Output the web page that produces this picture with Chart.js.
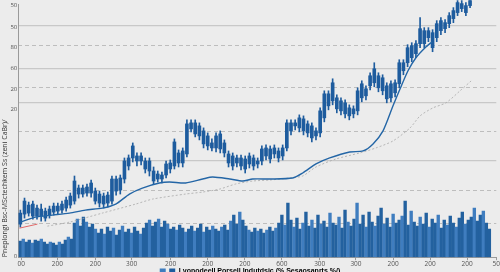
<!DOCTYPE html>
<html>
<head>
<meta charset="utf-8">
<script src="https://cdn.jsdelivr.net/npm/chart.js@4.4.1/dist/chart.umd.min.js"></script>
<style>
  html, body { margin: 0; padding: 0; background: #ececec; overflow: hidden; }
  #wrap { position: relative; width: 500px; height: 285px; }
</style>
</head>
<body>
<div id="wrap"><canvas id="chart"></canvas></div>
<script>
// axis ticks
const xTickVals   = [0.2, 8.9, 18, 26.7, 36.1, 45, 53.9, 62.8, 71.9, 80.6, 89.5, 98.4, 107.3, 114.3];
const xTickLabels = ['00', '200', '200', '300', '200', '200', '200', '600', '300', '300', '200', '200', '200', '50'];
const yTickVals   = [1, 148, 168, 188, 209, 229, 251];
const yTickLabels = ['0', '20', '20', '60', '80', '50', '50'];
const gridSolid   = [96, 154, 188, 231];
const gridDashed  = [34, 67, 125, 169, 211];

const yTitle = 'Pneplongi Bsc-MSctechkem Ss (zeni CaBr)/';
const legendText = 'Lyonodeell Porsell Indutdsic (% Sesaosanrts %/)';

// candles
const candleOpen  = [33,43,52,41,49,48,46,42,45,51,47,49,52,56,69,63,64,64,66,63,61,54,56,78,67,78,91,99,101,96,96,96,86,78,82,82,88,91,104,94,103,128,134,131,126,121,109,109,108,114,103,101,94,99,98,93,99,96,96,101,108,103,106,101,109,134,131,129,138,133,131,121,124,139,163,156,159,156,154,149,143,146,159,168,171,174,181,179,171,159,164,173,186,194,211,203,213,226,219,224,219,226,234,233,238,244,253,251,251];
const candleClose = [44,56,44,53,41,41,39,48,51,46,53,57,61,76,63,69,70,74,56,54,53,62,78,66,79,96,99,111,96,101,88,86,76,83,78,93,94,115,94,106,133,134,123,121,113,111,114,121,123,104,94,91,99,91,88,101,91,93,108,109,98,109,99,109,134,126,134,139,126,124,119,126,146,163,151,174,148,146,143,141,148,166,173,161,181,188,169,166,158,173,174,194,194,209,199,213,228,213,226,209,233,236,228,241,246,254,248,244,256];
const candleHigh  = [47,59,55,56,52,53,49,51,54,54,56,60,64,81,72,72,73,77,69,66,64,65,81,81,82,99,102,114,104,104,99,99,90,86,85,96,97,118,107,109,137,137,137,134,129,124,118,124,126,117,106,104,102,102,101,104,102,99,111,112,111,112,109,112,137,137,137,142,141,136,134,129,149,166,166,178,162,159,157,152,151,169,176,171,184,194,184,182,174,176,177,197,197,212,214,216,239,229,229,227,236,239,237,244,249,256,256,254,256];
const candleLow   = [30,39,41,38,38,36,36,39,42,43,44,46,49,53,59,60,61,60,53,50,49,50,53,62,63,74,87,95,91,92,84,81,73,75,74,79,84,88,90,90,100,125,120,117,109,107,106,105,104,100,90,87,90,87,84,89,87,89,92,97,94,99,95,97,106,122,127,125,122,120,115,117,120,135,147,152,144,142,139,137,139,142,155,157,167,170,165,162,154,155,160,169,182,190,195,199,209,209,215,205,215,222,224,229,234,241,245,241,249];

// volume
const volume = [16,18,15,17,14,17,16,18,15,13,15,
  14,12,15,13,17,20,18,
  34,38,31,40,35,30,33,28,
  24,28,23,30,26,29,22,27,31,25,
  28,24,30,26,23,29,34,37,31,35,
  38,30,36,33,28,30,27,32,29,25,
  28,31,26,29,33,25,30,27,31,28,
  26,30,32,27,36,42,33,45,37,31,
  27,25,29,26,28,
  24,27,30,26,29,
  34,42,32,54,37,
  30,39,28,34,45,31,37,29,42,33,
  36,30,44,34,32,40,29,47,35,31,
  38,54,33,42,30,
  45,35,31,41,49,33,39,30,43,34,
  37,41,56,32,46,
  35,31,40,33,44,30,38,34,42,29,
  37,32,41,34,30,39,45,33,37,40,
  49,36,42,46,34,28];

// moving averages
const maX  = [0,3.6,7.7,11.8,15.6,19.7,22.9,26.2,29.3,33.4,35.8,39.7,43.8,46.2,50.3,53.4,55.8,59.9,65.4,67.8,71,74.3,79.1,82.3,84.7,87.1,89.5,91.2,93.1,95,97.2,98.9];
const maY  = [35,40,42,44,47,49,53,63,69,74,75,74,78,80,78,76,78,78,79,84,93,99,105,106,113,126,151,168,186,199,209,215];
const ma2X = [6.5,11.8,19.7,27.7,31.8,39.7,43.8,47.9,51.7,55.8,59.9,64.7,67.8,71,75.8,81.5,85.4,89.5,93.6,96,99.1,102.2,105.6,108.3];
const ma2Y = [31,35,44,53,58,63,65,68,73,76,77,79,81,90,98,104,109,116,129,141,149,154,166,176];
const redX = [-0.2, 4.1];
const redY = [29, 33];

const BLUE = '#1e5c9e';
const BLUE_LIGHT = '#3f7dbf';

const pts = (xs, ys) => xs.map((x, i) => ({ x: x, y: ys[i] }));
const setTicks = vals => axis => { axis.ticks = vals.map(v => ({ value: v })); };

new Chart(document.getElementById('chart'), {
  type: 'bar',
  data: {
    datasets: [
      { type: 'line', label: 'ma', data: pts(maX, maY), borderColor: '#2466a6', borderWidth: 1.4,
        pointRadius: 0, tension: 0.25, xAxisID: 'x', yAxisID: 'y' },
      { type: 'line', label: 'ma2', data: pts(ma2X, ma2Y), borderColor: '#a8a8a8', borderWidth: 0.8,
        borderDash: [2, 2], pointRadius: 0, tension: 0.25, xAxisID: 'x', yAxisID: 'y' },
      { type: 'line', label: 'red', data: pts(redX, redY), borderColor: '#e06868', borderWidth: 1,
        pointRadius: 0, xAxisID: 'x', yAxisID: 'y' },
      { label: 'body', data: candleOpen.map((o, i) => ({ x: i, y: [o, candleClose[i]] })),
        backgroundColor: BLUE, barThickness: 3, grouped: false, clip: false, xAxisID: 'x', yAxisID: 'y' },
      { label: 'wick', data: candleLow.map((l, i) => ({ x: i, y: [l, candleHigh[i]] })),
        backgroundColor: BLUE, barThickness: 1, grouped: false, clip: false, xAxisID: 'x', yAxisID: 'y' },
      { label: 'volume', data: volume.map((v, i) => ({ x: i, y: v })),
        backgroundColor: c => (c.dataIndex % 3 === 1 ? BLUE_LIGHT : '#23619f'),
        barThickness: 2.7, grouped: false, xAxisID: 'xv', yAxisID: 'y' }
    ]
  },
  options: {
    responsive: true,
    maintainAspectRatio: false,
    animation: false,
    layout: { padding: 0 },
    plugins: {
      tooltip: { enabled: false },
      legend: {
        position: 'bottom',
        labels: {
          boxWidth: 6, boxHeight: 6, padding: 0,
          font: { size: 7, family: 'Liberation Sans', weight: 'bold' },
          color: '#222',
          generateLabels: () => [
            { text: '', fillStyle: BLUE_LIGHT, strokeStyle: BLUE_LIGHT, lineWidth: 0, datasetIndex: 5 },
            { text: legendText, fillStyle: BLUE, strokeStyle: BLUE, lineWidth: 0, datasetIndex: 3 }
          ]
        }
      }
    },
    scales: {
      x: {
        type: 'linear', min: -0.5, max: 114.3, offset: false,
        afterBuildTicks: setTicks(xTickVals),
        ticks: { callback: (v, i) => xTickLabels[i], autoSkip: false, maxRotation: 0, padding: 0,
                 font: { size: 6.5, family: 'Open Sans' }, color: '#555' },
        grid: { display: true, drawOnChartArea: false, drawTicks: true, tickLength: 3, color: '#9a9a9a', offset: false },
        border: { color: '#9a9a9a' }
      },
      xv: { type: 'linear', display: false, min: -0.67, max: 158.3, offset: false },
      y: {
        position: 'left', min: 0, max: 252,
        afterBuildTicks: setTicks(yTickVals),
        ticks: { callback: (v, i) => yTickLabels[i], autoSkip: false, padding: 1,
                 font: { size: 6, family: 'Open Sans' }, color: '#555' },
        grid: { display: false, drawTicks: false },
        border: { color: '#9a9a9a' },
        title: { display: true, text: yTitle, align: 'start', padding: { top: 1, bottom: 0 },
                 font: { size: 7, family: 'Open Sans' }, color: '#333' }
      },
      yS: {
        position: 'left', min: 0, max: 252,
        afterBuildTicks: setTicks(gridSolid),
        ticks: { display: false },
        grid: { color: '#c8c8c8', lineWidth: 1.2, drawTicks: false },
        border: { display: false }
      },
      yD: {
        position: 'left', min: 0, max: 252,
        afterBuildTicks: setTicks(gridDashed),
        ticks: { display: false },
        grid: { color: '#bdbdbd', lineWidth: 1, drawTicks: false },
        border: { display: false, dash: [4, 3] }
      }
    }
  }
});
</script>
</body>
</html>
